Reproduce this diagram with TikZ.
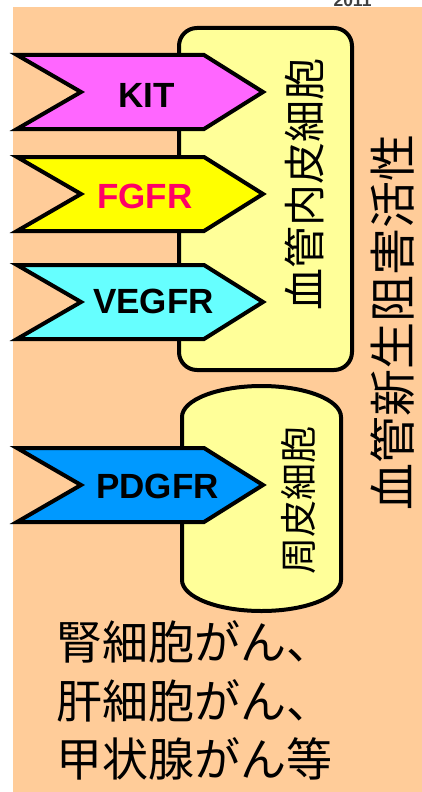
\documentclass[tikz,border=0pt]{standalone}
\usepackage{fontspec}
\setmainfont{Liberation Sans}
\newfontfamily\jfont{Noto Sans CJK JP}
\definecolor{peach}{HTML}{FFCC99}
\definecolor{cellfill}{HTML}{FFFF99}
\definecolor{kitc}{HTML}{FF66FF}
\definecolor{fgfrc}{HTML}{FFFF00}
\definecolor{vegfrc}{HTML}{66FFFF}
\definecolor{pdgfrc}{HTML}{0099FF}
\definecolor{fgfrtext}{HTML}{FF0066}
\newcommand{\chevshape}[2]{%
  \draw[chevbox,fill=#2] (17,#1-37) -- (204,#1-37) -- (263,#1) -- (204,#1+37) -- (17,#1+37) -- (81,#1) -- cycle;}
\begin{document}
\begin{tikzpicture}[x=1pt,y=-1pt,
  cellbox/.style={draw=black,line width=4pt,fill=cellfill},
  chevbox/.style={draw=black,line width=4pt,line join=miter,miter limit=10},
  rlabel/.style={font=\bfseries\fontsize{35}{40}\selectfont,inner sep=0pt},
  vtext/.style={rotate=90,inner sep=0pt},
  btext/.style={anchor=base west,inner sep=0pt,font=\jfont\fontsize{46}{58}\selectfont}]
\useasboundingbox (0,0) rectangle (422,792);
\fill[peach] (13,7) rectangle (422,792);
\node[anchor=base,inner sep=0pt,text=black!75,font=\bfseries\fontsize{17.5}{20}\selectfont] (yr) at (352.5,6.5) {2011};
% endothelial cell box
\draw[cellbox,rounded corners=18pt] (179,28) rectangle (352,370);
% pericyte box
\draw[cellbox] (182,417) .. controls (182,399.9) and (217.6,386) .. (261.5,386)
  .. controls (305.4,386) and (341,399.9) .. (341,417) -- (341,580)
  .. controls (341,597.1) and (305.4,611) .. (261.5,611)
  .. controls (217.6,611) and (182,597.1) .. (182,580) -- cycle;
% chevrons
\chevshape{92}{kitc}
\chevshape{194}{fgfrc}
\chevshape{302}{vegfrc}
\chevshape{485}{pdgfrc}
\node[rlabel] (kit) at (146.5,95) {KIT};
\node[rlabel,text=fgfrtext] (fgfr) at (145,196.5) {FGFR};
\node[rlabel] (vegfr) at (153.5,301.5) {VEGFR};
\node[rlabel] (pdgfr) at (157.5,486.5) {PDGFR};
% vertical texts
\node[vtext,font=\jfont\fontsize{42}{42}\selectfont] (endo) at (304,184) {血管内皮細胞};
\node[vtext,font=\jfont\fontsize{37}{37}\selectfont] (peri) at (299,500) {周皮細胞};
\node[vtext,font=\jfont\fontsize{47}{47}\selectfont] (angio) at (393,322) {血管新生阻害活性};
% bottom text
\node[btext] (l1) at (56,659) {腎細胞がん、};
\node[btext] (l2) at (56,718) {肝細胞がん、};
\node[btext] (l3) at (56,776) {甲状腺がん等};
\end{tikzpicture}
\end{document}
